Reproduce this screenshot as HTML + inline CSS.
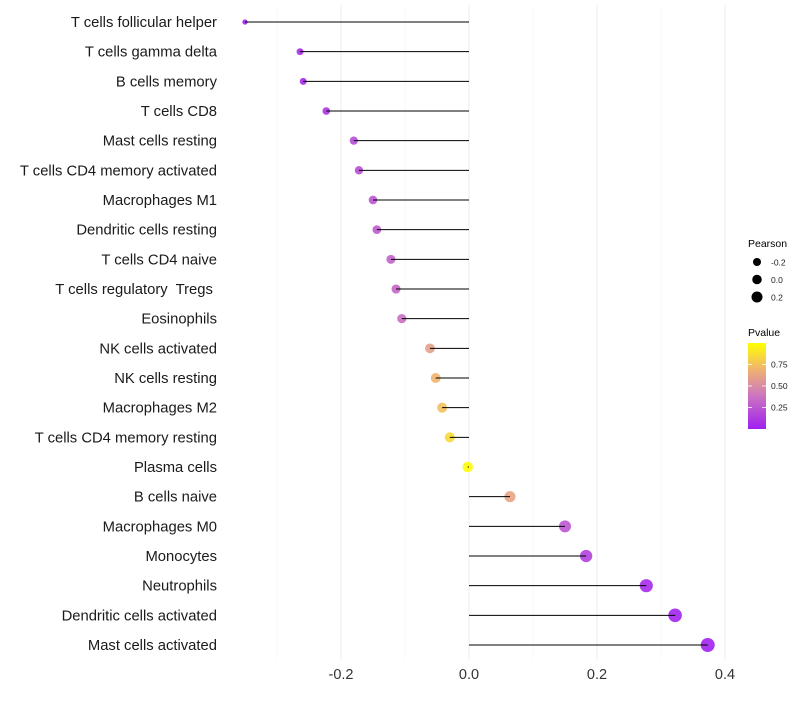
<!DOCTYPE html>
<html><head><meta charset="utf-8"><style>
body{margin:0;background:#fff;}
svg text{font-family:"Liberation Sans",sans-serif;white-space:pre;}
</style></head><body>
<svg id="c" width="800" height="700"></svg>
<script>
const categories=["T cells follicular helper","T cells gamma delta","B cells memory","T cells CD8","Mast cells resting","T cells CD4 memory activated","Macrophages M1","Dendritic cells resting","T cells CD4 naive","T cells regulatory  Tregs ","Eosinophils","NK cells activated","NK cells resting","Macrophages M2","T cells CD4 memory resting","Plasma cells","B cells naive","Macrophages M0","Monocytes","Neutrophils","Dendritic cells activated","Mast cells activated"];
const pearson=[-0.35,-0.264,-0.259,-0.223,-0.180,-0.172,-0.150,-0.144,-0.122,-0.114,-0.105,-0.061,-0.052,-0.042,-0.030,-0.002,0.064,0.150,0.183,0.277,0.322,0.373];
const pvalue=[0.01,0.05,0.05,0.1,0.2,0.2,0.25,0.27,0.3,0.32,0.36,0.6,0.7,0.75,0.85,0.99,0.62,0.25,0.15,0.05,0.02,0.01];
const xTicks=[-0.2,0.0,0.2,0.4];
const xMinor=[-0.3,-0.1,0.1,0.3];
const sizeLegend=[-0.2,0.0,0.2];
const colorTicks=[0.25,0.5,0.75];

const NS="http://www.w3.org/2000/svg";
const svg=document.getElementById('c');
function mk(t,a,p){const e=document.createElementNS(NS,t);for(const k in a)e.setAttribute(k,a[k]);(p||svg).appendChild(e);return e;}
const x=v=>469+v*640;
const y=i=>22+i*(623/21);
const rr=v=>Math.sqrt(Math.max(2.25,27.4+58*v));
function col(p){
  const stops=[[0,[160,32,240]],[0.4,[205,120,190]],[0.7,[240,180,110]],[1,[255,255,0]]];
  for(let i=1;i<stops.length;i++){if(p<=stops[i][0]){const a=stops[i-1],b=stops[i];const t=(p-a[0])/(b[0]-a[0]);
    return 'rgb('+a[1].map((c,j)=>Math.round(c+(b[1][j]-c)*t)).join(',')+')';}}
  return 'rgb(255,255,0)';
}
const grid=mk('g',{});
xMinor.forEach(v=>{mk('line',{x1:x(v),x2:x(v),y1:5,y2:660,stroke:'#f5f5f5','stroke-width':0.6},grid);});
xTicks.forEach(v=>{mk('line',{x1:x(v),x2:x(v),y1:5,y2:660,stroke:'#ededed','stroke-width':1.1},grid);});
const marks=mk('g',{});
categories.forEach((c,i)=>{
  const t=mk('text',{x:217,y:y(i)+5,'text-anchor':'end','font-size':14.8,fill:'#1a1a1a'});
  t.textContent=c;
  
  
  const p=mk('circle',{cx:x(pearson[i]),cy:y(i),r:rr(pearson[i]),fill:col(pvalue[i]),'fill-opacity':0.9},marks);
  
  
  const l=mk('line',{x1:x(0),x2:x(pearson[i]),y1:y(i),y2:y(i),stroke:'#000','stroke-width':1},marks);
  
  
});
xTicks.forEach(v=>{const t=mk('text',{x:x(v),y:679,'text-anchor':'middle','font-size':14.5,fill:'#333'});t.textContent=v.toFixed(1);
  
  });
const lg=mk('g',{});
mk('text',{x:748,y:247,'font-size':10.5,fill:'#000'},lg).textContent='Pearson';
sizeLegend.forEach((v,i)=>{const cy=262+i*17.5;
  mk('circle',{cx:757,cy:cy,r:4+i*0.75,fill:'#000'},lg);
  mk('text',{x:771,y:cy+3.5,'font-size':8.5,fill:'#222'},lg).textContent=v.toFixed(1);});
const cg=mk('g',{});
mk('text',{x:748,y:336,'font-size':10.5,fill:'#000'},cg).textContent='Pvalue';
const defs=mk('defs',{});
const gr=mk('linearGradient',{id:'g',x1:0,y1:1,x2:0,y2:0},defs);
[0,0.2,0.4,0.55,0.7,0.85,1].forEach(s=>mk('stop',{offset:s,'stop-color':col(s)},gr));
mk('rect',{x:748,y:343,width:18,height:86,fill:'url(#g)'},cg);
const cy=p=>429-p*86;
colorTicks.forEach(p=>{mk('line',{x1:748,x2:752,y1:cy(p),y2:cy(p),stroke:'#fff','stroke-width':0.8},cg);
  mk('line',{x1:762,x2:766,y1:cy(p),y2:cy(p),stroke:'#fff','stroke-width':0.8},cg);
  mk('text',{x:771,y:cy(p)+3,'font-size':8.5,fill:'#222'},cg).textContent=p.toFixed(2);});
</script>
</body></html>
